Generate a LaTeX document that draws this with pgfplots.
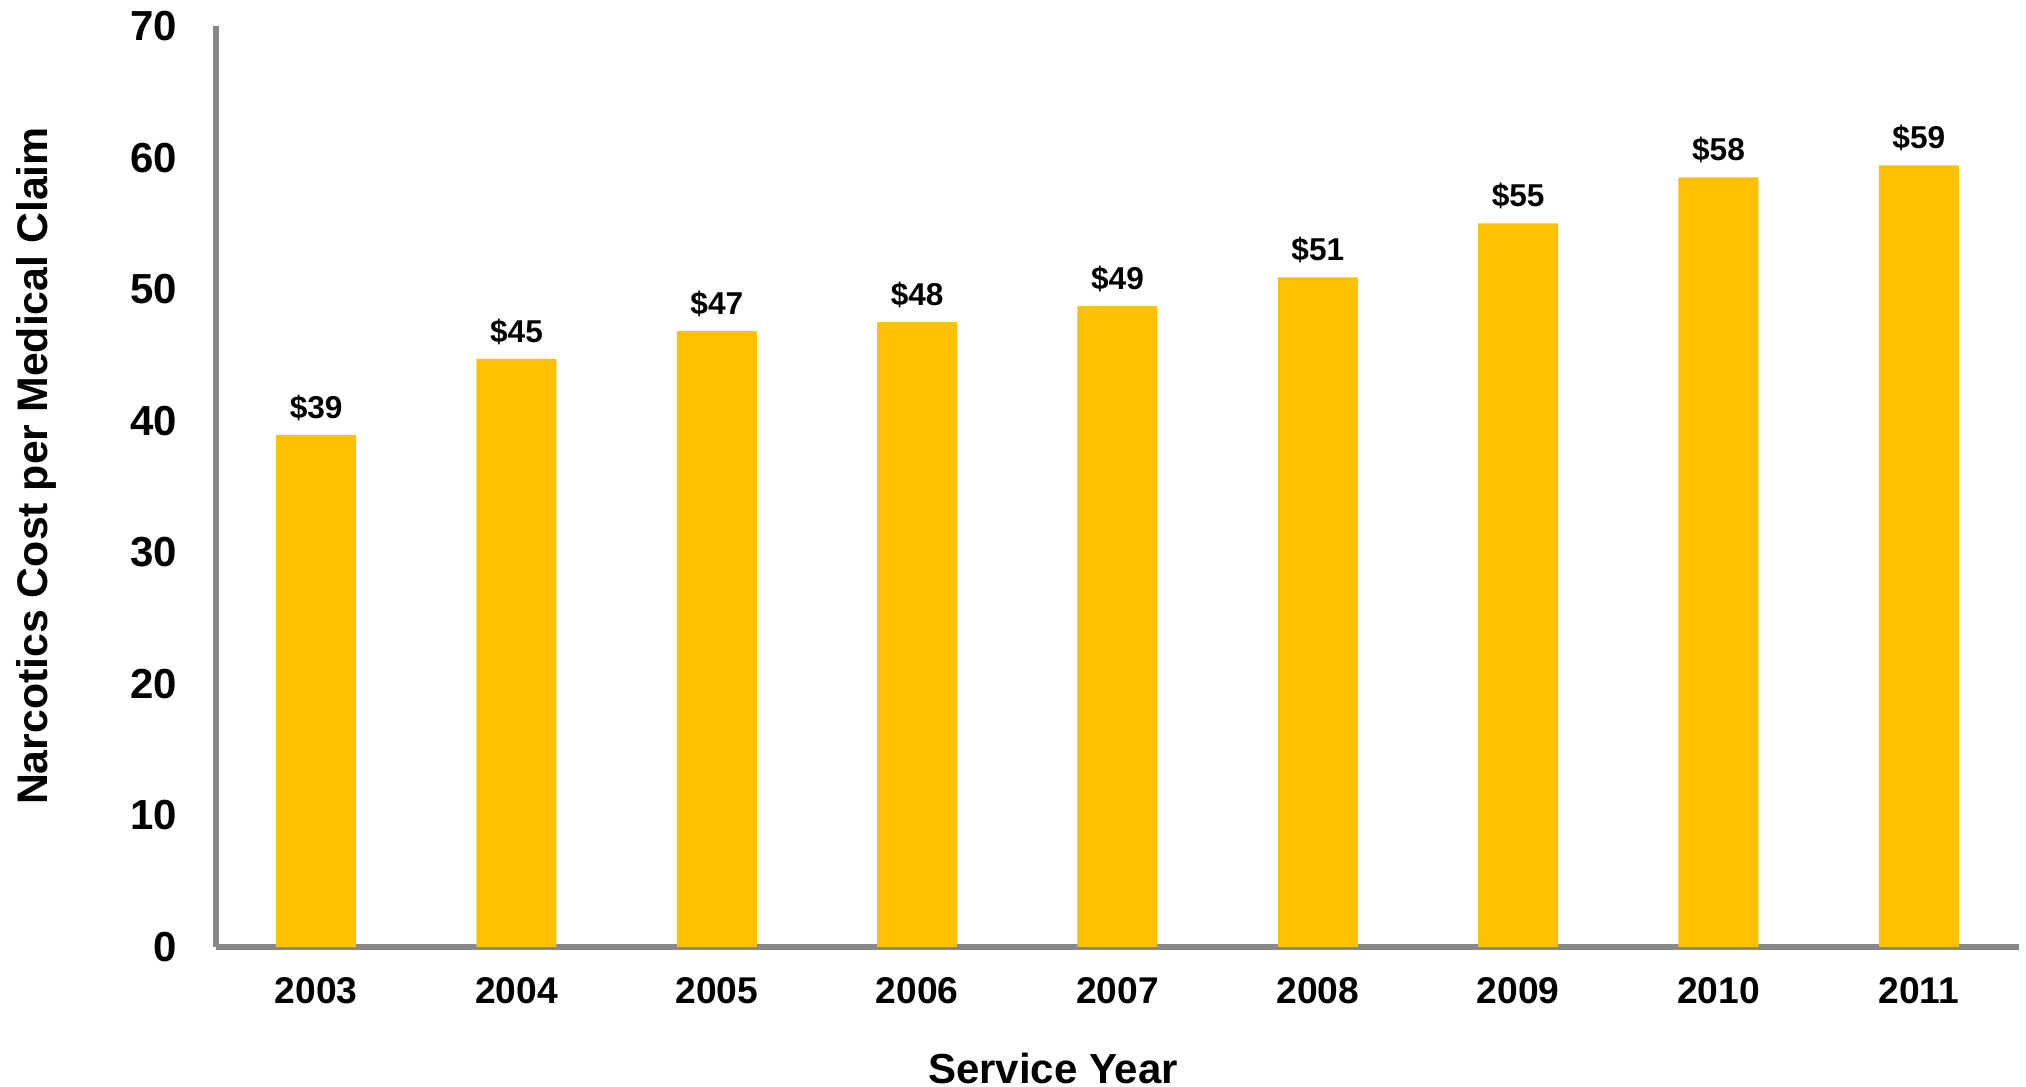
\documentclass[border=0pt]{standalone}
\usepackage{pgfplots}
\pgfplotsset{compat=1.18}
\usepackage{fontspec}
\setmainfont{Liberation Sans}
\definecolor{bargold}{HTML}{FFC000}
\definecolor{axgray}{HTML}{888888}
\begin{document}
\begin{tikzpicture}
\useasboundingbox (-54pt,-35pt) rectangle (452.5pt,236.75pt);
\begin{axis}[
  at={(0,0)}, anchor=south west,
  scale only axis, width=450.75pt, height=230.25pt,
  xmin=-0.5, xmax=8.5, ymin=0, ymax=70,
  axis lines=left,
  axis line style={-, draw=axgray, line width=1.5pt},
  xtick={0,1,2,3,4,5,6,7,8},
  xticklabels={2003,2004,2005,2006,2007,2008,2009,2010,2011},
  ytick={0,10,20,30,40,50,60,70},
  major tick length=0pt,
  tick style={draw=none},
  /pgf/number format/assume math mode=true,
  yticklabel style={font=\fontsize{10.5}{12}\selectfont\bfseries, anchor=east, inner sep=0pt, xshift=-9.5pt},
  xticklabel style={font=\fontsize{9.3}{11}\selectfont\bfseries, anchor=north, inner sep=0pt, yshift=-7.5pt},
  xlabel={Service Year},
  xlabel style={at={(axis description cs:0.4642,-0.1477)}, anchor=base, inner sep=0pt, font=\fontsize{10.5}{12}\selectfont\bfseries},
  ylabel={Narcotics Cost per Medical Claim},
  ylabel style={at={(axis description cs:-0.0932,0.5223)}, anchor=base, inner sep=0pt, rotate=0, font=\fontsize{10.7}{12}\selectfont\bfseries},
  nodes near coords,
  point meta=explicit symbolic,
  every node near coord/.append style={anchor=base, inner sep=0pt, yshift=4.2pt, font=\fontsize{7.9}{9}\selectfont\bfseries, text=black},
  clip=false,
]
\addplot[ybar, bar width=20pt, fill=bargold, draw=none] coordinates {
  (0,38.9) [\$39]
  (1,44.7) [\$45]
  (2,46.8) [\$47]
  (3,47.5) [\$48]
  (4,48.7) [\$49]
  (5,50.9) [\$51]
  (6,55.0) [\$55]
  (7,58.5) [\$58]
  (8,59.4) [\$59]
};
\end{axis}
\end{tikzpicture}
\end{document}
